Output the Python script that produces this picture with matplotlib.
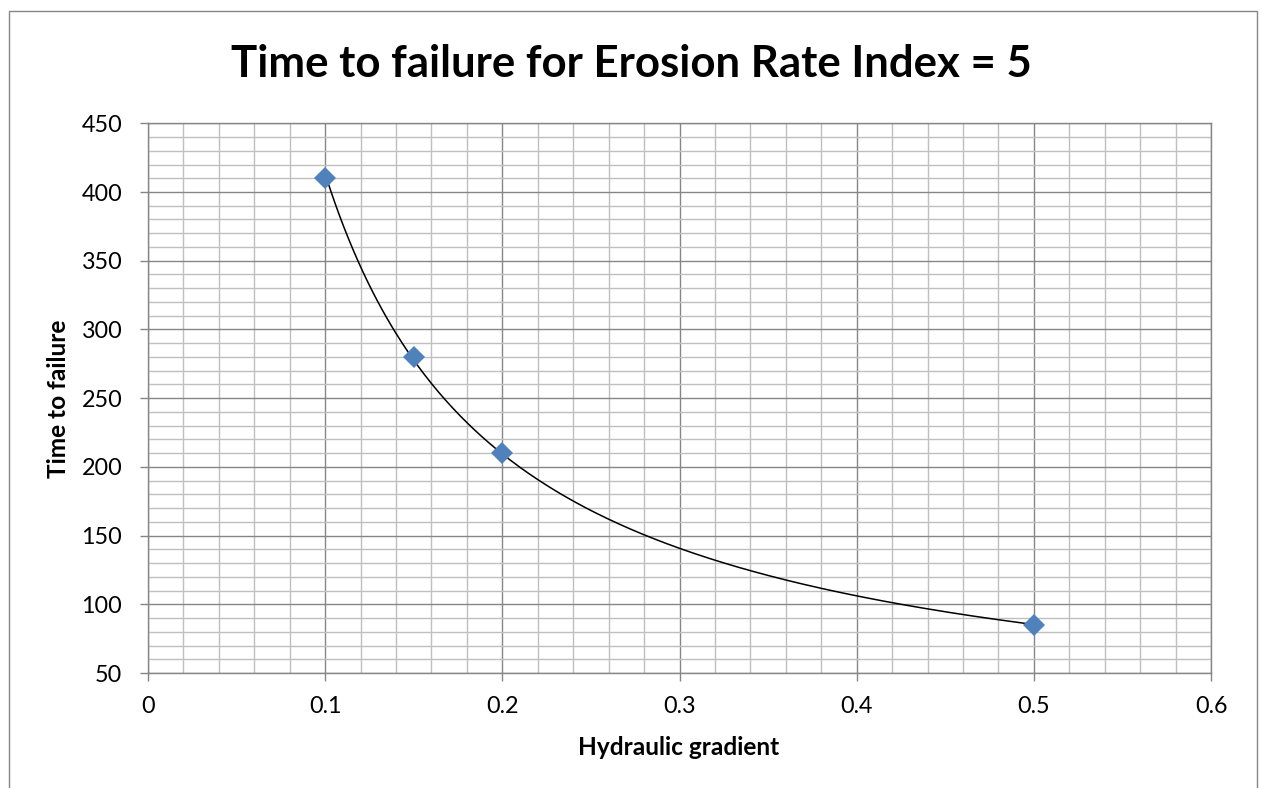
"""Time to failure vs hydraulic gradient, with a power-law trendline."""
import numpy as np
import matplotlib
matplotlib.use("Agg")
import matplotlib.pyplot as plt
from matplotlib.patches import Rectangle
from matplotlib.ticker import MultipleLocator

# measured points
gradient = [0.1, 0.15, 0.2, 0.5]
time_to_failure = [410, 280, 210, 85]

x_ticks = [0, 0.1, 0.2, 0.3, 0.4, 0.5, 0.6]
x_tick_labels = ["0", "0.1", "0.2", "0.3", "0.4", "0.5", "0.6"]
y_ticks = [50, 100, 150, 200, 250, 300, 350, 400, 450]

MAJOR = "#868686"
MINOR = "#BFBFBF"
BLUE = "#4F81BD"
FONT = ["Lato", "DejaVu Sans"]

W, H = 1262, 788
fig = plt.figure(figsize=(W / 100, H / 100), dpi=100)
ax = fig.add_axes([148 / W, 1 - 673 / H, (1211 - 148) / W, (673 - 123.3) / H])

# power trendline y = a * x^b, least squares in log-log space
gx = np.asarray(gradient, float)
gy = np.asarray(time_to_failure, float)
b, ln_a = np.polyfit(np.log(gx), np.log(gy), 1)
xs = np.linspace(gx.min(), gx.max(), 300)
ax.plot(xs, np.exp(ln_a) * xs ** b, color="black", lw=1.1, zorder=3)

ax.plot(gx, gy, linestyle="none", marker="D", ms=11, mew=0,
        color=BLUE, zorder=4)

ax.set_xlim(0, 0.6)
ax.set_ylim(50, 450)
ax.set_xticks(x_ticks)
ax.set_xticklabels(x_tick_labels)
ax.set_yticks(y_ticks)
ax.xaxis.set_minor_locator(MultipleLocator(0.02))
ax.yaxis.set_minor_locator(MultipleLocator(10))

ax.grid(which="minor", color=MINOR, lw=1.0, zorder=0)
ax.grid(which="major", color=MAJOR, lw=1.0, zorder=1)
ax.set_axisbelow(True)
ax.tick_params(which="minor", length=0)
ax.tick_params(which="major", direction="out", length=5.5, width=1.0,
               color=MAJOR, labelsize=16.8)
ax.tick_params(axis="x", pad=11)
ax.tick_params(axis="y", pad=13)
for lab in ax.get_xticklabels() + ax.get_yticklabels():
    lab.set_family(FONT)
for sp in ax.spines.values():
    sp.set_color(MAJOR)
    sp.set_linewidth(1.0)

fig.text(631 / W, 1 - 77 / H, "Time to failure for Erosion Rate Index = 5",
         ha="center", va="baseline", fontsize=31.5, fontweight="bold",
         family=FONT)
fig.text(59 / W, 1 - 399 / H, "Time to failure", rotation=90,
         ha="center", va="center", fontsize=17.6, fontweight="bold",
         family=FONT)
fig.text(679 / W, 1 - 755 / H, "Hydraulic gradient",
         ha="center", va="baseline", fontsize=17.6, fontweight="bold",
         family=FONT)

# chart area border (runs off the bottom edge)
fig.patches.append(Rectangle((8.5 / W, -0.05), (1256.5 - 8.5) / W,
                             1.05 - 11.5 / H, transform=fig.transFigure,
                             fill=False, edgecolor=MAJOR, lw=1.0))

fig.savefig("out.png", dpi=100)
